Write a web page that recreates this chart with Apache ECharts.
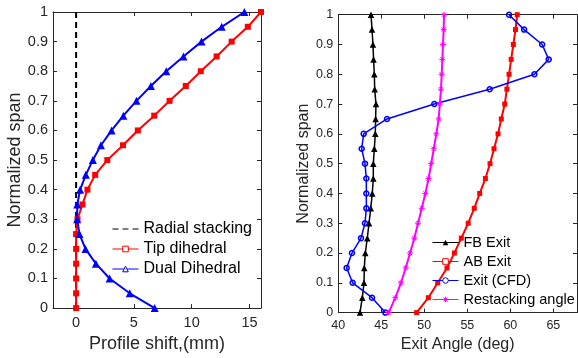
<!DOCTYPE html>
<html><head><meta charset="utf-8">
<script src="https://cdn.jsdelivr.net/npm/echarts@6/dist/echarts.min.js"></script>
<style>html,body{margin:0;padding:0;background:#fff}#c{width:578px;height:358px}</style>
</head><body><div id="c"></div><script>
// ---- data ----
const span = [0, 0.05, 0.1, 0.15, 0.2, 0.25, 0.3, 0.35, 0.4, 0.45, 0.5, 0.55, 0.6, 0.65, 0.7, 0.75, 0.8, 0.85, 0.9, 0.95, 1];
const radialSpan = [0, 1];
const radialShift = [0, 0];
const tipShift = [0, 0, 0, 0, 0, 0, 0.12, 0.55, 0.98, 1.65, 2.7, 4.06, 5.34, 6.76, 8.09, 9.49, 10.79, 12.16, 13.46, 14.86, 16.0];
const dualShift = [6.8, 4.64, 2.9, 1.71, 0.81, 0.29, 0.09, 0.1, 0.35, 0.84, 1.45, 2.15, 3.07, 4.09, 5.22, 6.47, 7.8, 9.29, 10.85, 12.6, 14.56];
const fbExit = [42.52, 42.79, 42.99, 43.02, 43.14, 43.37, 43.57, 43.77, 43.95, 44.07, 44.07, 44.19, 44.3, 44.34, 44.38, 44.23, 44.19, 44.1, 44.03, 43.92, 43.8];
const abExit = [49.11, 50.47, 51.56, 52.64, 53.5, 54.3, 55.1, 55.8, 56.44, 57.1, 57.64, 58.1, 58.57, 58.95, 59.35, 59.6, 59.85, 60.1, 60.35, 60.6, 60.8];
const cfdExit = [45.47, 43.92, 41.67, 40.97, 41.59, 42.64, 43.1, 43.26, 43.26, 43.26, 43.1, 42.72, 42.95, 45.66, 51.16, 57.6, 62.8, 64.46, 63.7, 61.6, 59.85];
const restackAngle = [45.86, 46.63, 47.29, 47.84, 48.34, 48.84, 49.27, 49.7, 50.12, 50.5, 50.8, 51.1, 51.4, 51.67, 51.8, 51.94, 52.02, 52.1, 52.17, 52.25, 52.29];
const leftXTicks = [0, 5, 10, 15];
const rightXTicks = [40, 45, 50, 55, 60, 65];

// ---- helpers ----
const AX = '#262626';
const FONT = "'Liberation Sans', Arial, Helvetica, sans-serif";
const pairs = (xs, ys) => xs.map((x, i) => [x, ys[i]]);

function xAx(grid, min, max, ticks, pos, name, fs, nfs, gap, lm) {
  const main = pos === 'bottom';
  return {
    type: 'value', gridIndex: grid, min, max, position: pos,
    name: main ? name : '', nameLocation: 'middle', nameGap: gap,
    nameTextStyle: { fontSize: nfs, color: AX, fontFamily: FONT },
    axisLine: { show: true, onZero: false, lineStyle: { color: AX, width: 1 } },
    axisTick: { show: true, inside: true, length: 4, customValues: ticks, lineStyle: { color: AX, width: 1 } },
    axisLabel: { show: main, customValues: ticks, fontSize: fs, color: AX, margin: lm, fontFamily: FONT },
    splitLine: { show: false }
  };
}
function yAx(grid, pos, name, fs, nfs, gap, lm) {
  const main = pos === 'left';
  return {
    type: 'value', gridIndex: grid, min: 0, max: 1, interval: 0.1, position: pos,
    name: main ? name : '', nameLocation: 'middle', nameGap: gap, nameRotate: 90,
    nameTextStyle: { fontSize: nfs, color: AX, fontFamily: FONT },
    axisLine: { show: true, onZero: false, lineStyle: { color: AX, width: 1 } },
    axisTick: { show: true, inside: true, length: 4, lineStyle: { color: AX, width: 1 } },
    axisLabel: { show: main, fontSize: fs, color: AX, margin: lm, fontFamily: FONT },
    splitLine: { show: false }
  };
}
const ASTER = 'path://M5,0L5,10M0,5L10,5M1.5,1.5L8.5,8.5M1.5,8.5L8.5,1.5';

const option = {
  animation: false,
  textStyle: { fontFamily: FONT },
  grid: [
    { left: 53, top: 12, width: 208, height: 297.5 },
    { left: 338.3, top: 14.7, right: 1, height: 298.3 }
  ],
  xAxis: [
    xAx(0, -2, 16, leftXTicks, 'bottom', 'Profile shift,(mm)', 14.5, 18, 24.5, 7),
    xAx(1, 40, 67.75, rightXTicks, 'bottom', 'Exit Angle (deg)', 12.5, 16, 24, 6.5),
    xAx(0, -2, 16, leftXTicks, 'top'),
    xAx(1, 40, 67.75, rightXTicks, 'top')
  ],
  yAxis: [
    yAx(0, 'left', 'Normalized span', 14.5, 18, 26.5, 5),
    yAx(1, 'left', 'Normalized span', 12.5, 16, 24.3, 5),
    yAx(0, 'right'),
    yAx(1, 'right')
  ],
  legend: [
    {
      orient: 'vertical', left: 112, top: 221, padding: 0, itemWidth: 26, itemHeight: 7, itemGap: 4,
      textStyle: { fontSize: 16, color: '#000', lineHeight: 16, fontFamily: FONT },
      lineStyle: { width: 1 },
      data: [
        { name: 'Radial stacking', itemStyle: { opacity: 0 } },
        { name: 'Tip dihedral', itemStyle: { color: '#fff', borderColor: '#ff0000', borderWidth: 1 } },
        { name: 'Dual Dihedral', itemStyle: { color: '#fff', borderColor: '#0000ff', borderWidth: 1 } }
      ]
    },
    {
      orient: 'vertical', left: 432, top: 235, padding: 0, itemWidth: 26, itemHeight: 7, itemGap: 4,
      textStyle: { fontSize: 14.5, color: '#000', lineHeight: 15, fontFamily: FONT },
      lineStyle: { width: 1 },
      data: [
        { name: 'FB Exit' },
        { name: 'AB Exit', itemStyle: { color: '#fff', borderColor: '#ff0000', borderWidth: 1 } },
        { name: 'Exit (CFD)', itemStyle: { color: '#fff', borderColor: '#0000ff', borderWidth: 1 } },
        { name: 'Restacking angle', itemStyle: { color: 'rgba(0,0,0,0)', borderColor: '#ff00ff', borderWidth: 1 } }
      ]
    }
  ],
  series: [
    {
      name: 'Radial stacking', type: 'line', xAxisIndex: 0, yAxisIndex: 0,
      data: pairs(radialShift, radialSpan), symbol: 'none',
      lineStyle: { color: '#000', width: 2, type: [6, 4] }, itemStyle: { color: '#000' }
    },
    {
      name: 'Tip dihedral', type: 'line', xAxisIndex: 0, yAxisIndex: 0,
      data: pairs(tipShift, span), symbol: 'rect', symbolSize: 6,
      lineStyle: { color: '#ff0000', width: 2 }, itemStyle: { color: '#ff0000' }
    },
    {
      name: 'Dual Dihedral', type: 'line', xAxisIndex: 0, yAxisIndex: 0,
      data: pairs(dualShift, span), symbol: 'triangle', symbolSize: 8,
      lineStyle: { color: '#0000ff', width: 2 }, itemStyle: { color: '#0000ff' }
    },
    {
      name: 'FB Exit', type: 'line', xAxisIndex: 1, yAxisIndex: 1,
      data: pairs(fbExit, span), symbol: 'triangle', symbolSize: 6.5,
      lineStyle: { color: '#000', width: 1.5 }, itemStyle: { color: '#000' }
    },
    {
      name: 'AB Exit', type: 'line', xAxisIndex: 1, yAxisIndex: 1,
      data: pairs(abExit, span), symbol: 'rect', symbolSize: 5,
      lineStyle: { color: '#ff0000', width: 2 }, itemStyle: { color: '#ff0000' }
    },
    {
      name: 'Exit (CFD)', type: 'line', xAxisIndex: 1, yAxisIndex: 1,
      data: pairs(cfdExit, span), symbol: 'circle', symbolSize: 5,
      lineStyle: { color: '#0000ff', width: 1.5 },
      itemStyle: { color: 'rgba(255,255,255,0)', borderColor: '#0000ff', borderWidth: 1.5 }
    },
    {
      name: 'Restacking angle', type: 'line', xAxisIndex: 1, yAxisIndex: 1,
      data: pairs(restackAngle, span), symbol: ASTER, symbolSize: 6,
      lineStyle: { color: '#ff00ff', width: 2 },
      itemStyle: { color: 'rgba(0,0,0,0)', borderColor: '#ff00ff', borderWidth: 1 }
    }
  ]
};
const chart = echarts.init(document.getElementById('c'), null, { renderer: 'canvas' });
chart.setOption(option);
</script></body></html>
